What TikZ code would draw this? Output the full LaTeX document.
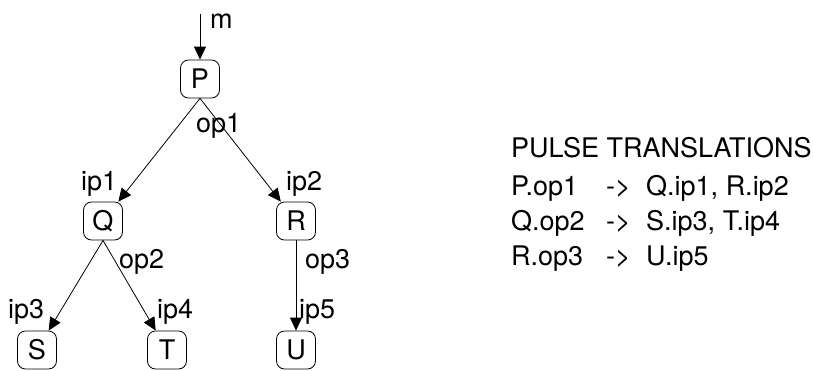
\documentclass[tikz,border=0pt]{standalone}
\usepackage{fontspec}
\setmainfont{TeX Gyre Heros}
\usetikzlibrary{arrows.meta}
\begin{document}
\begin{tikzpicture}[x=1pt,y=-1pt,
  box/.style={draw,line width=0.8pt,rounded corners=8pt,minimum width=39pt,minimum height=38pt,inner sep=0pt,font=\fontsize{27}{31}\selectfont},
  lbl/.style={anchor=base west,inner sep=0pt,font=\fontsize{27}{31}\selectfont},
  conn/.style={line width=0.8pt,-{Triangle[length=13pt,width=12pt]}}]
\useasboundingbox (0,0) rectangle (813,370);
\node[box] (P) at (200,79) {P};
\node[box] (Q) at (103,221) {Q};
\node[box] (R) at (296,221) {R};
\node[box] (S) at (37,350) {S};
\node[box] (T) at (167,350) {T};
\node[box] (U) at (296,350) {U};
\coordinate (m) at (200,14);
\draw[conn] (m) -- (P.north);
\draw[conn] (P.south) -- (Q);
\draw[conn] (P.south) -- (R);
\draw[conn] (Q.south) -- (S);
\draw[conn] (Q.south) -- (T);
\draw[conn] (R.south) -- (U.north);
\node[lbl] (lm) at (210,28) {m};
\node[lbl] (lop1) at (196,132) {op1};
\node[lbl] (lip1) at (81,190) {ip1};
\node[lbl] (lip2) at (286,190) {ip2};
\node[lbl] (lop2) at (119,268) {op2};
\node[lbl] (lip3) at (8,318) {ip3};
\node[lbl] (lip4) at (157,318) {ip4};
\node[lbl] (lop3) at (305,268) {op3};
\node[lbl] (lip5) at (299,318) {ip5};
\node[lbl] (title) at (511,157) {PULSE TRANSLATIONS};
\node[lbl] (r1a) at (511,195) {P.op1};
\node[lbl] (r1b) at (606,195) {->};
\node[lbl] (r1c) at (646,195) {Q.ip1, R.ip2};
\node[lbl] (r2a) at (511,230) {Q.op2};
\node[lbl] (r2b) at (606,230) {->};
\node[lbl] (r2c) at (646,230) {S.ip3, T.ip4};
\node[lbl] (r3a) at (511,265) {R.op3};
\node[lbl] (r3b) at (606,265) {->};
\node[lbl] (r3c) at (646,265) {U.ip5};
\end{tikzpicture}
\end{document}
